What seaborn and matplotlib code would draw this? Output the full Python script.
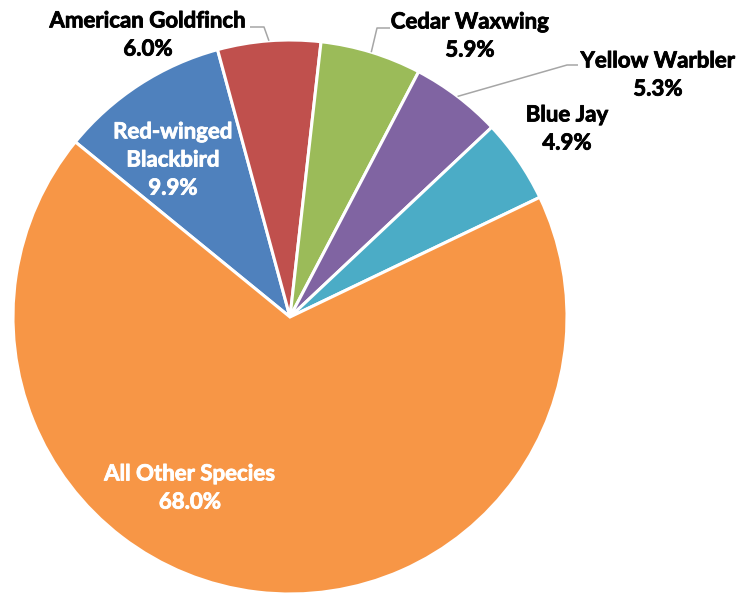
import matplotlib
matplotlib.use("Agg")
import matplotlib.pyplot as plt
import matplotlib.patheffects as pe
import seaborn as sns
import numpy as np

species = ["Red-winged Blackbird", "American Goldfinch", "Cedar Waxwing",
           "Yellow Warbler", "Blue Jay", "All Other Species"]
display_names = ["Red-winged\nBlackbird", "American Goldfinch", "Cedar Waxwing",
                 "Yellow Warbler", "Blue Jay", "All Other Species"]
shares = [9.9, 6.0, 5.9, 5.3, 4.9, 68.0]
colors = ["#4F81BD", "#C0504D", "#9BBB59", "#8064A2", "#4BACC6", "#F79646"]

sns.set_theme(style="white")
plt.rcParams['font.family'] = ['Lato', 'DejaVu Sans']

W, H = 739, 594
fig = plt.figure(figsize=(W / 100, H / 100), dpi=100)
ax = fig.add_axes([0, 0, 1, 1])
cx, cy, R = 290, H - 317, 277
wedges, _ = ax.pie(shares, colors=colors, startangle=140.8, counterclock=False,
                   center=(cx, cy), radius=R, frame=True,
                   wedgeprops=dict(edgecolor='white', linewidth=2.2))
ax.set_xlim(0, W)
ax.set_ylim(0, H)
ax.set_aspect('equal')
ax.axis('off')

# label placement (image pixel coords, y down), text colour, leader elbow
label_pos = [(173, 160), (148, 35), (470, 36), (658, 75), (567, 129), (190, 488)]
label_col = ["white", "black", "black", "black", "black", "white"]
leaders = {1: [(250, 27), (264, 27)], 2: [(390, 28), (377, 28)], 3: [(578, 65), (567, 65)]}

for i, (name, v) in enumerate(zip(display_names, shares)):
    x, y = label_pos[i]
    ax.text(x, H - y, f"{name}\n{v:.1f}%", ha='center', va='center',
            fontsize=16, fontweight='bold', color=label_col[i], linespacing=1.42,
            path_effects=[pe.withStroke(linewidth=0.6, foreground=label_col[i])])

for i, pts in leaders.items():
    w = wedges[i]
    mid = np.deg2rad((w.theta1 + w.theta2) / 2)
    ex, ey = cx + R * np.cos(mid), cy + R * np.sin(mid)
    xs = [p[0] for p in pts] + [ex]
    ys = [H - p[1] for p in pts] + [ey]
    ax.plot(xs, ys, color='#A6A6A6', lw=1.1, solid_capstyle='butt')

fig.savefig("out.png", dpi=100, facecolor='white')
